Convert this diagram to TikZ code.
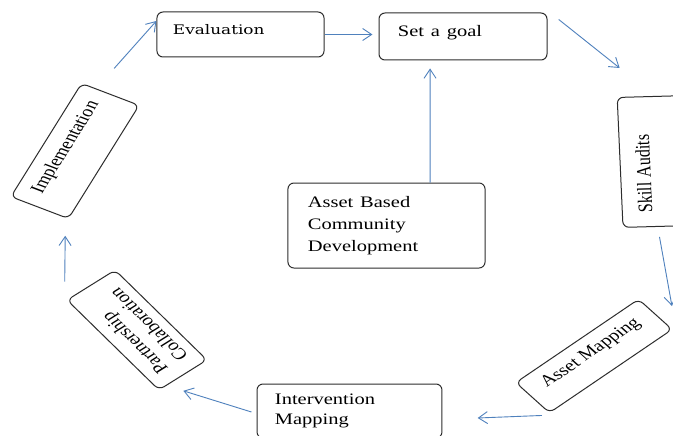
\documentclass[tikz,border=0pt]{standalone}
\usepackage{fontspec}
\setmainfont{Liberation Serif}
\newfontfamily\evalfont{DejaVu Serif}
\usetikzlibrary{arrows.meta,calc}
\definecolor{arrowblue}{RGB}{79,129,189}
\definecolor{boxline}{RGB}{45,45,45}
\begin{document}
\begin{tikzpicture}[xscale=1.28, x=0.78125pt, y=-1pt, transform shape,
  stagebox/.style={draw=boxline, line width=1pt, rounded corners=6pt,
    font=\fontsize{16}{20}\selectfont, inner ysep=4pt},
  flow/.style={draw=arrowblue, line width=0.9pt,
    -{Straight Barb[length=9pt,width=12pt]}}]
\useasboundingbox (0,0) rectangle (673,436);
\fill[white] (0,0) rectangle (673,436);
\clip (0,0) rectangle (673,436);

\node[stagebox, minimum width=130.5pt, minimum height=45pt, text width=105.5pt,
  inner xsep=12.5pt, align=left, text height=10pt, text depth=10pt,
  font=\evalfont\fontsize{13.2}{16}\selectfont] (eval) at (240.5,34.5) {Evaluation};
\node[stagebox, minimum width=131.25pt, minimum height=47pt, text width=101.65pt,
  inner xsep=14.8pt, align=left, text height=11pt, text depth=11pt] (goal) at (463,36.5) {Set a goal};
\node[stagebox, minimum width=154pt, minimum height=85pt, text width=122.8pt,
  inner xsep=15.6pt, align=left, font=\fontsize{16}{22}\selectfont] (abcd) at (386.5,225.5)
  {Asset Based\\Community\\Development};
\node[stagebox, minimum width=144.5pt, minimum height=54pt, text width=116.5pt,
  inner xsep=14pt, align=left] (interv) at (349.5,411) {Intervention\\Mapping};
\node[stagebox, rotate=92, minimum width=130pt, minimum height=53pt, text width=102pt,
  inner xsep=14pt, align=left, text height=11pt, text depth=17pt] (skill) at (654,161.5) {Skill Audits};
\node[stagebox, rotate=41, minimum width=127pt, minimum height=40pt,
  text height=11pt, text depth=11pt, inner ysep=2pt] (asset) at (594,356) {Asset Mapping};
\node[stagebox, rotate=128.6, minimum width=115pt, minimum height=48pt, text width=91pt,
  inner xsep=12pt, inner ysep=2pt, align=left] (partner) at (137,330) {Partnership\\Collaboration};
\node[stagebox, rotate=64, minimum width=126pt, minimum height=50pt,
  text height=11pt, text depth=19pt, inner ysep=2pt] (impl) at (75,151) {Implementation};

\draw[flow] ($(impl.east)+(3.5,-25.5)$) -- ($(eval.west)+(0,-13.5)$);
\draw[flow, shorten >=6pt] (eval.east) -- (eval.east -| goal.west);
\draw[flow] ($(goal.north east)+(11,7)$) -- ($(skill.north east)+(3,-29)$);
\draw[flow] ($(skill.north west)+(37,9)$) -- ($(asset.east)+(16,-8)$);
\draw[flow] ($(asset.south west)+(-7.5,2)$) -- ($(interv.east)+(35,7)$);
\draw[flow] ($(interv.west)+(-5,1)$) -- ($(partner.west)+(0,15.5)$);
\draw[flow] ($(partner.east)+(-26,-3)$) -- ($(impl.south west)+(-3.5,16.5)$);
\draw[flow] ($(abcd.north)+(43.5,0)$) -- ($(goal.south)+(-33,8)$);
\end{tikzpicture}
\end{document}
